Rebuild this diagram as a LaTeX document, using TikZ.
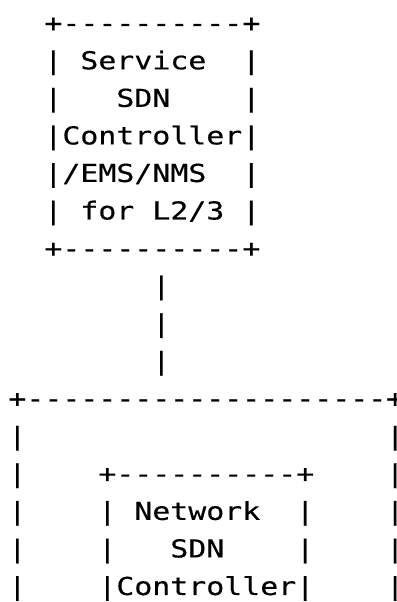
\documentclass[tikz,border=0pt]{standalone}
\usepackage{fontspec}
\setmonofont[FakeStretch=1.21,FakeBold=0.4]{DejaVu Sans Mono}

\begin{document}
\begin{tikzpicture}[
    x=9pt, y=-18.775pt,
    ascii/.style={anchor=base west, inner sep=0pt, text=black,
        font=\fontsize{12.35pt}{18.8pt}\selectfont\ttfamily}
]
    \useasboundingbox (-0.444,-0.8455) rectangle (21.611,15.187);

    % Service box ------------------------------------------------

    \node[ascii] (svc0) at (2,0) {+----------+};
    \node[ascii] (svc1) at (2,1) {|~Service~~|};
    \node[ascii] (svc2) at (2,2) {|~~~SDN~~~~|};
    \node[ascii] (svc3) at (2,3) {|Controller|};
    \node[ascii] (svc4) at (2,4) {|/EMS/NMS~~|};
    \node[ascii] (svc5) at (2,5) {|~for~L2/3~|};
    \node[ascii] (svc6) at (2,6) {+----------+};

    % Link -------------------------------------------------------

    \foreach \r in {7,8,9}
        \node[ascii] (link\r) at (8,\r) {|};

    % Network box ------------------------------------------------

    \node[ascii] (net0) at (0,10) {+--------------------+};
    \node[ascii] (net1) at (0,11) {|~~~~~~~~~~~~~~~~~~~~|};
    \node[ascii] (net2) at (0,12) {|~~~~+----------+~~~~|};
    \node[ascii] (net3) at (0,13) {|~~~~|~Network~~|~~~~|};
    \node[ascii] (net4) at (0,14) {|~~~~|~~~SDN~~~~|~~~~|};
    \node[ascii] (net5) at (0,15) {|~~~~|Controller|~~~~|};

\end{tikzpicture}
\end{document}
